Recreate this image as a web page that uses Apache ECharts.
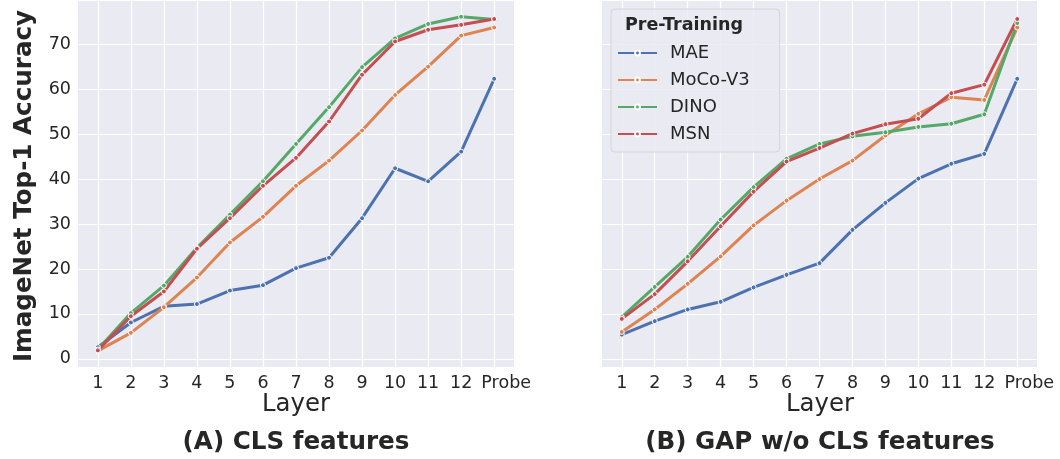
<!DOCTYPE html>
<html>
<head>
<meta charset="utf-8">
<script src="https://cdn.jsdelivr.net/npm/echarts@6/dist/echarts.min.js"></script>
<style>
  html, body { margin: 0; padding: 0; background: #fff; }
  #chart { width: 1060px; height: 459px; }
</style>
</head>
<body>
<div id="chart"></div>
<script>
// layer names on the x axis
const layers = ['1', '2', '3', '4', '5', '6', '7', '8', '9', '10', '11', '12', 'Probe']
const methods = ['MAE', 'MoCo-V3', 'DINO', 'MSN']

// (A) CLS features
const clsMAE = [2.6, 8.1, 11.7, 12.2, 15.2, 16.4, 20.2, 22.5, 31.3, 42.4, 39.5, 46.1, 62.3]
const clsMoCo = [1.8, 5.8, 11.5, 18.1, 25.9, 31.6, 38.5, 44.1, 50.8, 58.7, 65.0, 71.9, 73.7]
const clsDINO = [2.1, 10.2, 16.3, 24.7, 32.1, 39.5, 47.8, 56.0, 64.9, 71.3, 74.5, 76.1, 75.5]
const clsMSN = [1.9, 9.5, 15.0, 24.5, 31.3, 38.5, 44.7, 52.8, 63.2, 70.6, 73.2, 74.3, 75.6]

// (B) GAP w/o CLS features
const gapMAE = [5.4, 8.4, 11.0, 12.7, 15.9, 18.7, 21.3, 28.7, 34.7, 40.1, 43.4, 45.6, 62.3]
const gapMoCo = [6.0, 11.0, 16.7, 22.8, 29.7, 35.2, 40.0, 44.1, 49.7, 54.5, 58.2, 57.6, 73.7]
const gapDINO = [9.3, 16.0, 22.7, 31.0, 38.2, 44.5, 47.8, 49.5, 50.4, 51.6, 52.3, 54.4, 74.7]
const gapMSN = [8.9, 14.4, 21.7, 29.5, 37.2, 43.9, 46.9, 50.1, 52.2, 53.4, 59.1, 61.0, 75.6]

const colors = ['#4c72b0', '#dd8452', '#55a868', '#c44e52']
const font = 'DejaVu Sans'
const txt = '#262626'

let chart = echarts.init(document.getElementById('chart'))

function pairs (arr) {
  return arr.map((v, i) => [i, v])
}

function xAxisFor (idx) {
  return {
    type: 'value',
    gridIndex: idx,
    min: -0.6,
    max: 12.6,
    minInterval: 1,
    maxInterval: 1,
    axisLine: { show: false },
    axisTick: { show: false },
    axisLabel: {
      showMinLabel: false,
      showMaxLabel: false,
      color: txt,
      fontFamily: font,
      fontSize: 17.5,
      margin: 7,
      formatter: function (v) {
        if (!Number.isInteger(v)) return ''
        // the last label sits a little right of its grid line
        return v === 12 ? '{p|' + layers[v] + '}' : layers[v]
      },
      rich: {
        p: { color: txt, fontFamily: font, fontSize: 17.5, padding: [0, 0, 0, 24] }
      }
    },
    splitLine: { show: true, showMinLine: false, showMaxLine: false, lineStyle: { color: '#fff', width: 1.2 } }
  }
}

function yAxisFor (idx, labels) {
  return {
    type: 'value',
    gridIndex: idx,
    min: -1.8,
    max: 79.6,
    minInterval: 10,
    maxInterval: 10,
    axisLine: { show: false },
    axisTick: { show: false },
    axisLabel: {
      show: labels,
      showMinLabel: false,
      showMaxLabel: false,
      color: txt,
      fontFamily: font,
      fontSize: 17.5,
      margin: 7
    },
    splitLine: { show: true, showMinLine: false, showMaxLine: false, lineStyle: { color: '#fff', width: 1.2 } }
  }
}

function lineSeries (name, data, idx, c) {
  return {
    name: name,
    type: 'line',
    xAxisIndex: idx,
    yAxisIndex: idx,
    data: pairs(data),
    symbol: 'circle',
    symbolSize: 5,
    showSymbol: true,
    lineStyle: { width: 3, color: c },
    itemStyle: { color: c, borderColor: '#fff', borderWidth: 1 },
    emphasis: { disabled: true },
    animation: false
  }
}

const clsData = [clsMAE, clsMoCo, clsDINO, clsMSN]
const gapData = [gapMAE, gapMoCo, gapDINO, gapMSN]
let series = []
methods.forEach((m, i) => series.push(lineSeries(m, clsData[i], 0, colors[i])))
methods.forEach((m, i) => series.push(lineSeries(m, gapData[i], 1, colors[i])))

chart.setOption({
  animation: false,
  color: colors,
  grid: [
    { left: 78, top: 1, width: 436, height: 366, show: true, backgroundColor: '#eaeaf2', borderWidth: 0 },
    { left: 602, top: 1, width: 435, height: 366, show: true, backgroundColor: '#eaeaf2', borderWidth: 0 }
  ],
  xAxis: [xAxisFor(0), xAxisFor(1)],
  yAxis: [yAxisFor(0, true), yAxisFor(1, false)],
  legend: {
    data: methods,
    orient: 'vertical',
    left: 611,
    top: 9,
    width: 147,
    padding: [34, 30, 8, 6],
    backgroundColor: 'rgba(234,234,242,0.85)',
    borderColor: '#d4d4d8',
    borderWidth: 1,
    borderRadius: 4,
    itemWidth: 39,
    itemHeight: 6,
    itemGap: 7,
    textStyle: { color: txt, fontFamily: font, fontSize: 18, lineHeight: 20, padding: [0, 0, 0, 8] }
  },
  graphic: [
    {
      type: 'text', z: 100,
      style: { text: 'Pre-Training', x: 684, y: 25, align: 'center', verticalAlign: 'middle', fill: txt, font: 'bold 17.5px "DejaVu Sans"' }
    },
    {
      type: 'text', rotation: Math.PI / 2, x: 25, y: 186,
      style: { text: 'ImageNet Top-1 Accuracy', x: 0, y: 0, align: 'center', verticalAlign: 'middle', fill: txt, font: 'bold 24.6px "DejaVu Sans"' }
    },
    {
      type: 'text',
      style: { text: 'Layer', x: 296, y: 405, align: 'center', verticalAlign: 'middle', fill: txt, font: '24.4px "DejaVu Sans"' }
    },
    {
      type: 'text',
      style: { text: 'Layer', x: 820, y: 405, align: 'center', verticalAlign: 'middle', fill: txt, font: '24.4px "DejaVu Sans"' }
    },
    {
      type: 'text',
      style: { text: '(A) CLS features', x: 296, y: 443, align: 'center', verticalAlign: 'middle', fill: txt, font: 'bold 24.6px "DejaVu Sans"' }
    },
    {
      type: 'text',
      style: { text: '(B) GAP w/o CLS features', x: 820, y: 443, align: 'center', verticalAlign: 'middle', fill: txt, font: 'bold 24.6px "DejaVu Sans"' }
    }
  ],
  series: series
})
</script>
</body>
</html>
